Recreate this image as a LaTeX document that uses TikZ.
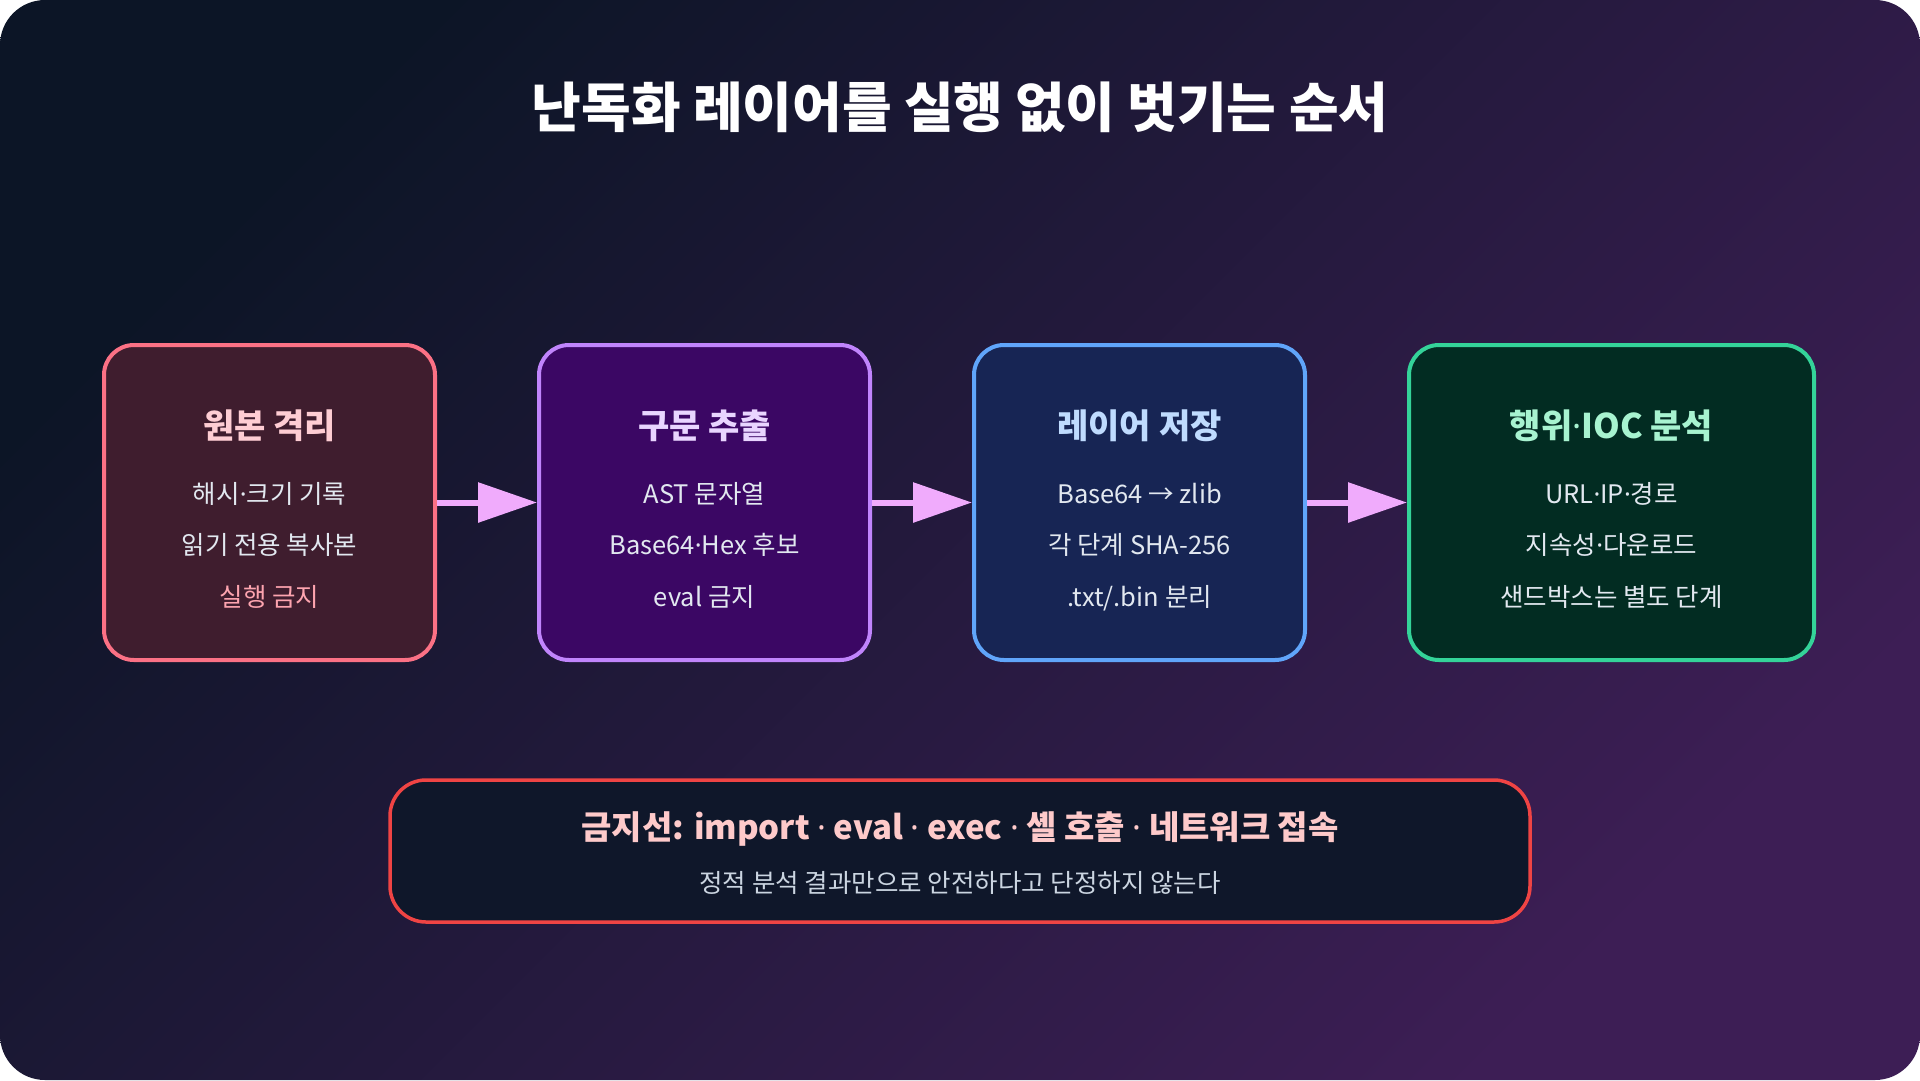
\documentclass[tikz,border=0pt]{standalone}
\usepackage{fontspec}
\setmainfont{Noto Sans CJK KR}
\newfontfamily\latinfont{Noto Sans}
\newcommand\mdot{{\latinfont ·}}
\usetikzlibrary{arrows.meta,positioning,calc}

\definecolor{bgtl}{HTML}{0C1526}
\definecolor{bgbr}{HTML}{3D1E55}
\definecolor{ink}{HTML}{E2E8F0}
\definecolor{inkdim}{HTML}{CBD5E1}
\definecolor{flowpink}{HTML}{F0ABFC}
\definecolor{isofill}{HTML}{3F1D2E}
\definecolor{isoedge}{HTML}{FB7185}
\definecolor{isohead}{HTML}{FECDD3}
\definecolor{isowarn}{HTML}{FDA4AF}
\definecolor{astfill}{HTML}{3B0764}
\definecolor{astedge}{HTML}{C084FC}
\definecolor{asthead}{HTML}{E9D5FF}
\definecolor{layfill}{HTML}{172554}
\definecolor{layedge}{HTML}{60A5FA}
\definecolor{layhead}{HTML}{BFDBFE}
\definecolor{iocfill}{HTML}{022C22}
\definecolor{iocedge}{HTML}{34D399}
\definecolor{iochead}{HTML}{A7F3D0}
\definecolor{banfill}{HTML}{0F172A}
\definecolor{banedge}{HTML}{EF4444}
\definecolor{banhead}{HTML}{FECACA}

\tikzset{
	stage/.style={draw, line width=4pt, rounded corners=30pt, minimum width=331pt, minimum height=315pt, inner sep=0pt},
	stagehead/.style={font=\bfseries\fontsize{34}{40}\selectfont, anchor=base, inner sep=0pt},
	stageline/.style={font=\fontsize{25.5}{30}\selectfont, text=ink, anchor=base, inner sep=0pt},
	flow/.style={line width=6pt, draw=flowpink, -{Triangle[length=59pt, width=39pt, fill=flowpink]}},
}

\begin{document}
\begin{tikzpicture}[x=1pt, y=-1pt]
		%%%%% START %%%%%
		
		\useasboundingbox (0, 0) rectangle (1920, 1080);
		\shade[rounded corners=45pt, top color=bgtl, bottom color=bgbr, shading angle=45] (0, 0) rectangle (1920, 1080);
		
		\node[font=\bfseries\fontsize{54}{64}\selectfont, text=white, anchor=base, inner sep=0pt] (title) at (960, 127) {난독화 레이어를 실행 없이 벗기는 순서};
		
		\node[stage, fill=isofill, draw=isoedge] (iso) at (269.5, 502.5) {};
		\node[stage, fill=astfill, draw=astedge, right=100pt of iso] (ast) {};
		\node[stage, fill=layfill, draw=layedge, right=100pt of ast] (lay) {};
		\node[stage, fill=iocfill, draw=iocedge, right=100pt of lay, minimum width=405pt] (ioc) {};
		
		\node[stagehead, text=isohead] (isoT) at ($(iso.center)+(0, -64)$) {원본 격리};
		\node[stageline] (isoA) at ($(iso.center)+(0, 0.5)$) {해시\mdot 크기 기록};
		\node[stageline] (isoB) at ($(iso.center)+(0, 52)$) {읽기 전용 복사본};
		\node[stageline, text=isowarn] (isoC) at ($(iso.center)+(0, 103.5)$) {실행 금지};
		
		\node[stagehead, text=asthead] (astT) at ($(ast.center)+(0, -64)$) {구문 추출};
		\node[stageline] (astA) at ($(ast.center)+(0, 0.5)$) {AST 문자열};
		\node[stageline] (astB) at ($(ast.center)+(0, 52)$) {Base64\mdot Hex 후보};
		\node[stageline] (astC) at ($(ast.center)+(0, 103.5)$) {eval 금지};
		
		\node[stagehead, text=layhead] (layT) at ($(lay.center)+(0, -64)$) {레이어 저장};
		\node[stageline] (layA) at ($(lay.center)+(0, 0.5)$) {Base64 → zlib};
		\node[stageline] (layB) at ($(lay.center)+(0, 52)$) {각 단계 SHA-256};
		\node[stageline] (layC) at ($(lay.center)+(0, 103.5)$) {.txt/.bin 분리};
		
		\node[stagehead, text=iochead] (iocT) at ($(ioc.center)+(0, -64)$) {행위\mdot IOC 분석};
		\node[stageline] (iocA) at ($(ioc.center)+(0, 0.5)$) {URL\mdot IP\mdot 경로};
		\node[stageline] (iocB) at ($(ioc.center)+(0, 52)$) {지속성\mdot 다운로드};
		\node[stageline] (iocC) at ($(ioc.center)+(0, 103.5)$) {샌드박스는 별도 단계};
		
		\draw[flow] (iso.east) -- (ast.west);
		\draw[flow] (ast.east) -- (lay.west);
		\draw[flow] (lay.east) -- (ioc.west);
		
		\node[draw=banedge, fill=banfill, line width=3.5pt, rounded corners=36pt, minimum width=1140pt, minimum height=142pt] (ban) at (960, 851) {};
		\node[stagehead, text=banhead, font=\bfseries\fontsize{33}{40}\selectfont] (banT) at ($(ban.center)+(0, -11.5)$) {금지선: import \mdot{} eval \mdot{} exec \mdot{} 셸 호출 \mdot{} 네트워크 접속};
		\node[stageline, text=inkdim] (banS) at ($(ban.center)+(0, 41)$) {정적 분석 결과만으로 안전하다고 단정하지 않는다};
		
		%%%%% END %%%%%
	\end{tikzpicture}
\end{document}
